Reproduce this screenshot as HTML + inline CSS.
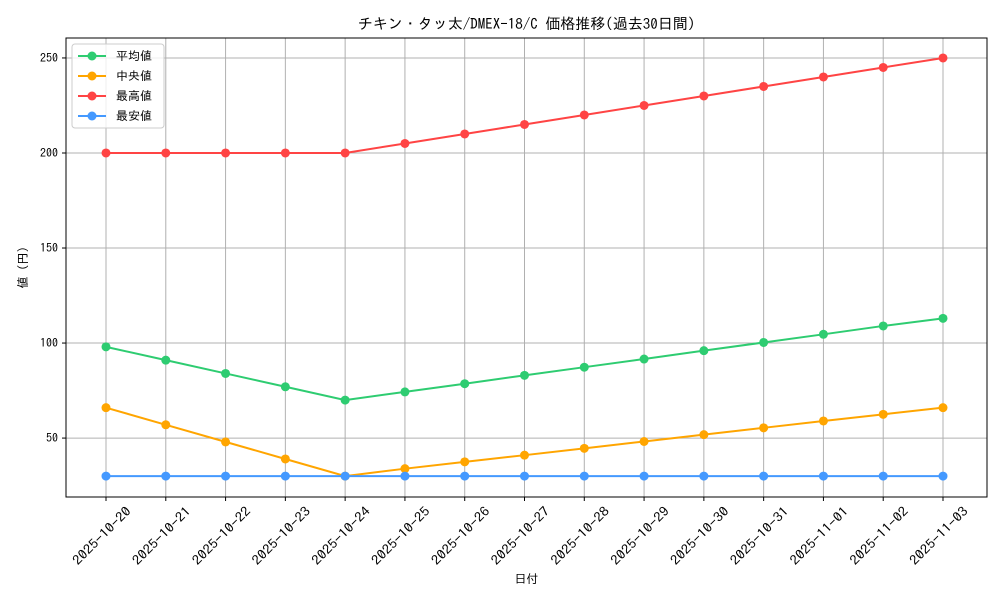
<!DOCTYPE html>
<html><head><meta charset="utf-8"><style>
html,body{margin:0;padding:0;background:#fff;}
svg text{font-family:"IPAGothic","Noto Sans CJK JP",monospace;fill:#000;}
</style></head><body>
<svg id="chart" width="1000" height="600" xmlns="http://www.w3.org/2000/svg"></svg>
<script>
const categories=["2025-10-20","2025-10-21","2025-10-22","2025-10-23","2025-10-24","2025-10-25","2025-10-26","2025-10-27","2025-10-28","2025-10-29","2025-10-30","2025-10-31","2025-11-01","2025-11-02","2025-11-03"];
const avgValues=[98,91,84,77,70,74.3,78.6,83,87.3,91.6,96,100.3,104.6,109,113];
const medianValues=[66,57,48,39,30,33.9,37.5,41,44.6,48.2,51.8,55.4,59,62.5,66];
const maxValues=[200,200,200,200,200,205,210,215,220,225,230,235,240,245,250];
const minValues=[30,30,30,30,30,30,30,30,30,30,30,30,30,30,30];
const yTicks=[50,100,150,200,250];
const seriesNames=["平均値","中央値","最高値","最安値"];
const seriesColors=["#2ecc71","#ffa500","#ff4444","#4499ff"];
const seriesData=[avgValues,medianValues,maxValues,minValues];

const NS="http://www.w3.org/2000/svg";
const svg=document.getElementById('chart');
const L=66,R=987,T=38,B=497;
const yMin=19,yMax=260.5;
const x=i=>106+i*(943-106)/(categories.length-1);
const y=v=>B-(v-yMin)/(yMax-yMin)*(B-T);
function mk(tag,attrs,parent){const e=document.createElementNS(NS,tag);for(const k in attrs)e.setAttribute(k,attrs[k]);(parent||svg).appendChild(e);return e;}

const grid=mk('g',{});


categories.forEach((c,i)=>{
  mk('line',{x1:x(i),x2:x(i),y1:T,y2:B,stroke:'#b0b0b0','stroke-width':1},grid);
  mk('line',{x1:x(i),x2:x(i),y1:B,y2:B+4,stroke:'#000'},grid);
  const t=mk('text',{x:0,y:0,'font-size':13,'text-anchor':'middle',textLength:76,lengthAdjust:'spacingAndGlyphs',transform:`translate(${x(i)-1},${B+42}) rotate(-45)`});
  t.textContent=c;
  
  
});
yTicks.forEach(v=>{
  mk('line',{x1:L,x2:R,y1:y(v),y2:y(v),stroke:'#b0b0b0','stroke-width':1},grid);
  mk('line',{x1:L-4,x2:L,y1:y(v),y2:y(v),stroke:'#000'},grid);
  const t=mk('text',{x:L-8,y:y(v)+4,'font-size':12,'text-anchor':'end'});
  t.textContent=v;
  
  
});
const frame=mk('rect',{x:L,y:T,width:R-L,height:B-T,fill:'none',stroke:'#000','stroke-width':1});



seriesData.forEach((d,s)=>{
  const g=mk('g',{});
  
  
  mk('polyline',{points:d.map((v,i)=>x(i)+','+y(v)).join(' '),fill:'none',stroke:seriesColors[s],'stroke-width':2},g);
  d.forEach((v,i)=>{const c=mk('circle',{cx:x(i),cy:y(v),r:4.5,fill:seriesColors[s]},g);
    
    });
});

const title=mk('text',{x:(L+R)/2,y:29,'font-size':15,'text-anchor':'middle'});
title.textContent='チキン・タッ太/DMEX-18/C 価格推移(過去30日間)';


const xt=mk('text',{x:(L+R)/2,y:583,'font-size':12,'text-anchor':'middle'});
xt.textContent='日付';


const yt=mk('text',{x:0,y:0,'font-size':12,'text-anchor':'middle',transform:`translate(27,${(T+B)/2}) rotate(-90)`});
yt.textContent='値 (円)';



const lg=mk('g',{});


mk('rect',{x:72,y:44,width:92,height:84,rx:3,fill:'#fff','fill-opacity':0.8,stroke:'#ccc'},lg);
seriesNames.forEach((n,s)=>{
  const ly=56+s*20;
  mk('line',{x1:78,x2:106,y1:ly,y2:ly,stroke:seriesColors[s],'stroke-width':2},lg);
  mk('circle',{cx:92,cy:ly,r:4.5,fill:seriesColors[s]},lg);
  const t=mk('text',{x:116,y:ly+4,'font-size':12},lg);
  t.textContent=n;
  
  
});
</script>
</body></html>
